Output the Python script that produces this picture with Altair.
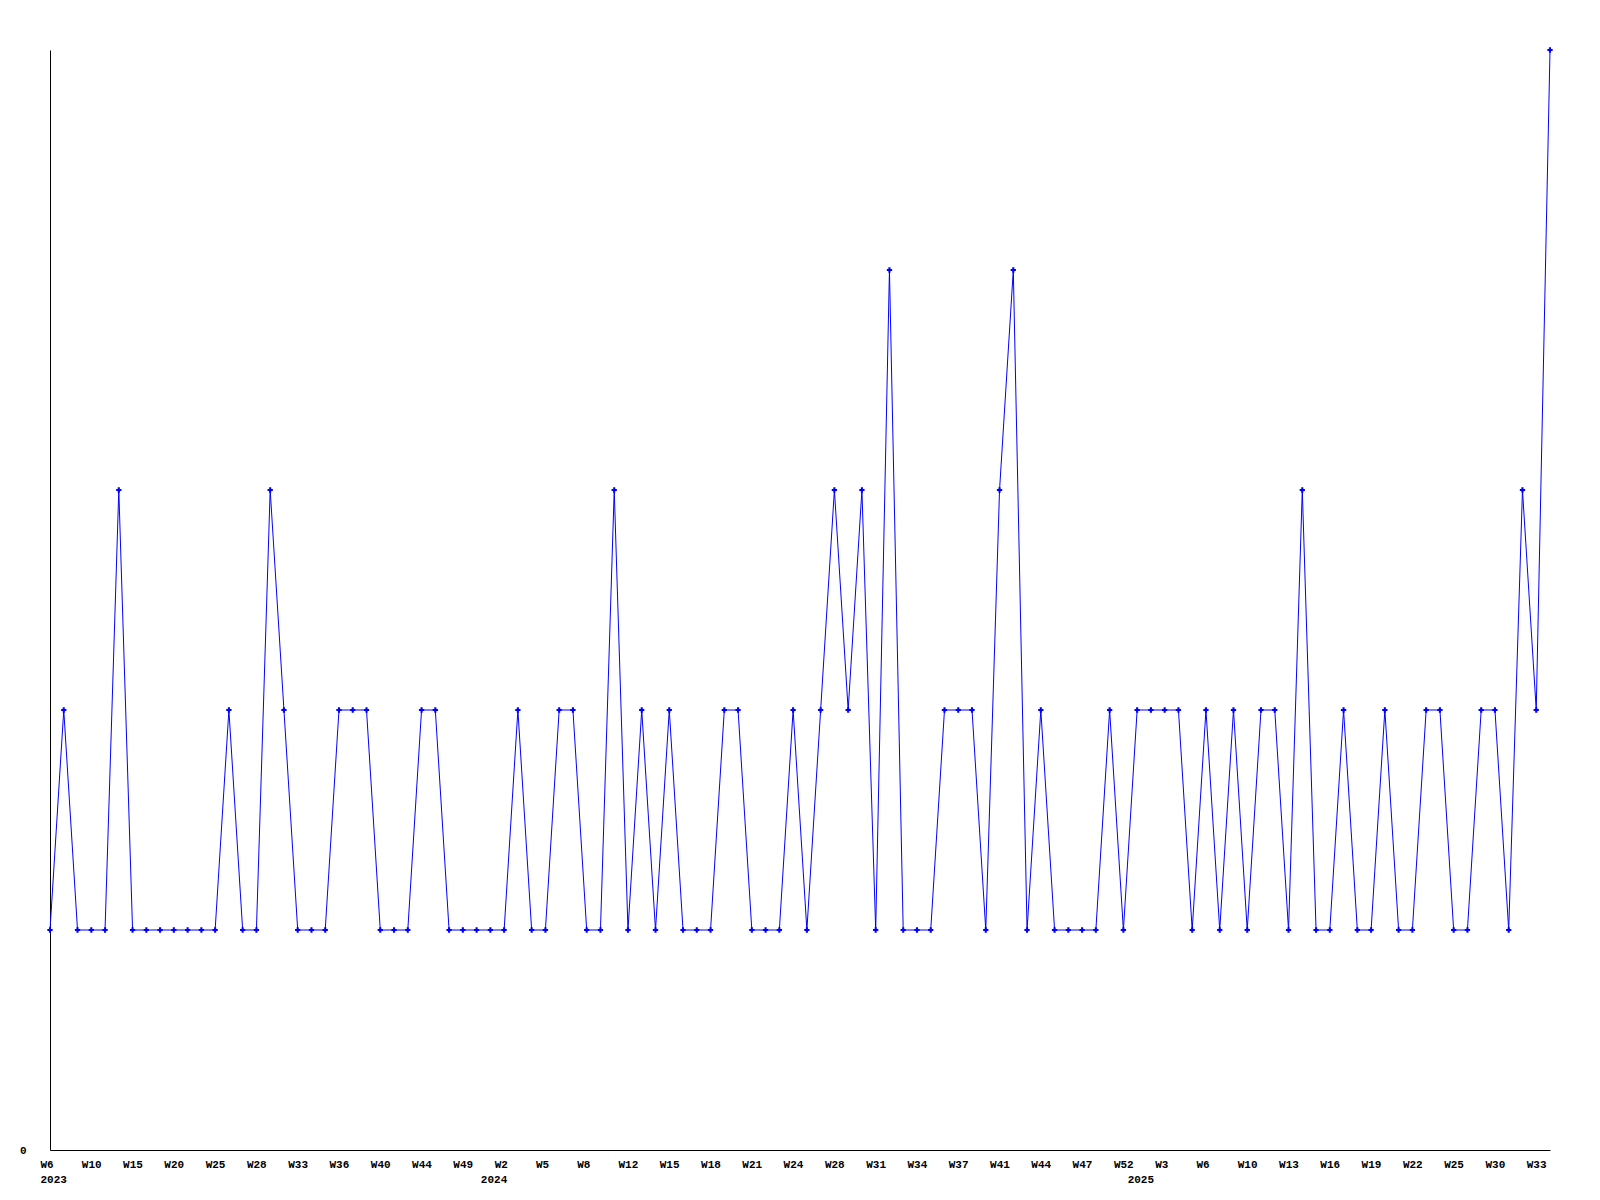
import altair as alt
import pandas as pd

weeks = [
    "2023 W6", "2023 W7", "2023 W8", "2023 W10", "2023 W11", "2023 W13", "2023 W15", "2023 W17",
    "2023 W18", "2023 W20", "2023 W22", "2023 W23", "2023 W25", "2023 W26", "2023 W27", "2023 W28",
    "2023 W30", "2023 W31", "2023 W33", "2023 W34", "2023 W35", "2023 W36", "2023 W38", "2023 W39",
    "2023 W40", "2023 W42", "2023 W43", "2023 W44", "2023 W46", "2023 W47", "2023 W49", "2023 W51",
    "2024 W1", "2024 W2", "2024 W3", "2024 W4", "2024 W5", "2024 W6", "2024 W7", "2024 W8",
    "2024 W10", "2024 W11", "2024 W12", "2024 W13", "2024 W14", "2024 W15", "2024 W16", "2024 W17",
    "2024 W18", "2024 W19", "2024 W20", "2024 W21", "2024 W22", "2024 W23", "2024 W24", "2024 W26",
    "2024 W27", "2024 W28", "2024 W29", "2024 W30", "2024 W31", "2024 W32", "2024 W33", "2024 W34",
    "2024 W35", "2024 W36", "2024 W37", "2024 W39", "2024 W40", "2024 W41", "2024 W42", "2024 W43",
    "2024 W44", "2024 W45", "2024 W46", "2024 W47", "2024 W49", "2024 W50", "2024 W52",
    "2025 W1", "2025 W2", "2025 W3", "2025 W4", "2025 W5", "2025 W6", "2025 W8", "2025 W9",
    "2025 W10", "2025 W11", "2025 W12", "2025 W13", "2025 W14", "2025 W15", "2025 W16", "2025 W17",
    "2025 W18", "2025 W19", "2025 W20", "2025 W21", "2025 W22", "2025 W23", "2025 W24", "2025 W25",
    "2025 W27", "2025 W28", "2025 W30", "2025 W31", "2025 W32", "2025 W33", "2025 W34",
]

values = [
    1, 2, 1, 1, 1, 3, 1, 1, 1, 1, 1, 1, 1, 2, 1, 1, 3, 2, 1, 1,
    1, 2, 2, 2, 1, 1, 1, 2, 2, 1, 1, 1, 1, 1, 2, 1, 1, 2, 2, 1,
    1, 3, 1, 2, 1, 2, 1, 1, 1, 2, 2, 1, 1, 1, 2, 1, 2, 3, 2, 3,
    1, 4, 1, 1, 1, 2, 2, 2, 1, 3, 4, 1, 2, 1, 1, 1, 1, 2, 1, 2,
    2, 2, 2, 1, 2, 1, 2, 1, 2, 2, 1, 3, 1, 1, 2, 1, 1, 2, 1, 1,
    2, 2, 1, 1, 2, 2, 1, 3, 2, 5,
]

year_starts = ["2023 W6", "2024 W1", "2025 W1"]
y_ticks = [0]

df = pd.DataFrame({"week": weeks, "value": values})
shown = weeks[::3]

font = "Liberation Mono"
common = dict(
    labelAngle=0, ticks=False, grid=False, title=None, labelFont=font,
    labelFontWeight="bold", labelFontSize=11, labelColor="black",
    labelBaseline="top", labelAlign="left", labelOffset=-10, labelOverlap=False,
)

x_weeks = alt.X(
    "week:O", sort=weeks, scale=alt.Scale(padding=0),
    axis=alt.Axis(values=shown, labelExpr="slice(datum.value, 5)", labelPadding=8,
                  domainColor="black", domainWidth=1, orient="bottom", **common),
)
x_years = alt.X(
    "week:O", sort=weeks, scale=alt.Scale(padding=0),
    axis=alt.Axis(values=year_starts, labelExpr="slice(datum.value, 0, 4)", labelPadding=23,
                  domain=False, orient="bottom", **common),
)
y_enc = alt.Y(
    "value:Q", scale=alt.Scale(domain=[0, 5], nice=False, zero=True),
    axis=alt.Axis(
        values=y_ticks, ticks=False, grid=False, title=None, labelFont=font,
        labelFontWeight="bold", labelFontSize=11, labelColor="black",
        labelPadding=24, domainColor="black", domainWidth=1,
    ),
)

line = alt.Chart(df).mark_line(color="#0000ff", strokeWidth=1).encode(x=x_weeks, y=y_enc)
pts = alt.Chart(df).mark_point(shape="cross", filled=True, size=28, color="#0000ff", opacity=1).encode(
    x=x_years, y=y_enc
)

chart = (
    alt.layer(line, pts)
    .resolve_axis(x="independent")
    .properties(
        width=1500, height=1100,
        padding={"left": 42, "top": 42, "right": 20, "bottom": 40},
        autosize=alt.AutoSizeParams(type="none"),
        background="white",
    )
    .configure_view(stroke=None)
)

chart.save("out.html", embed_options={"renderer": "svg", "actions": False})
